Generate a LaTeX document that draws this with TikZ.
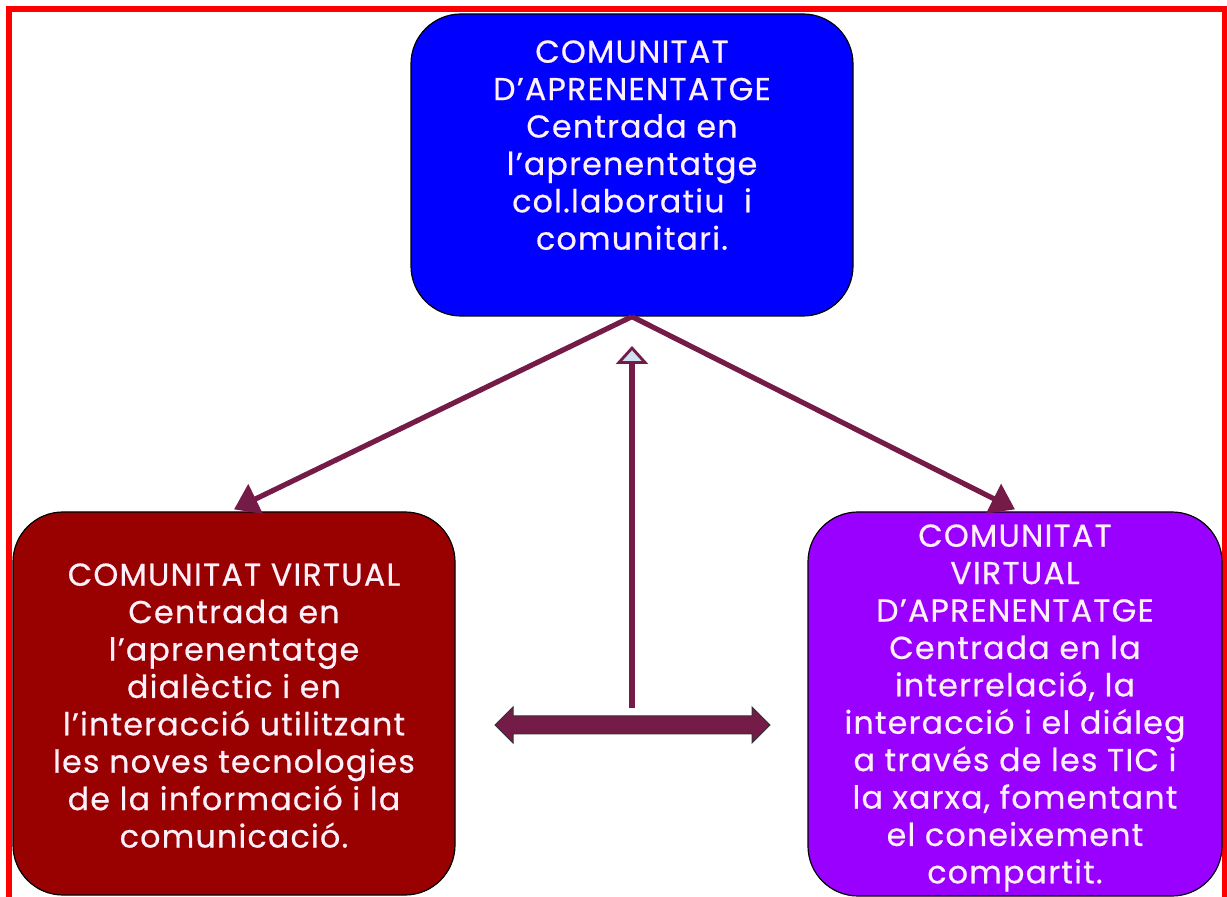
\documentclass[tikz,border=0pt]{standalone}
\usepackage{fontspec}
\setmainfont{Poppins}[LetterSpace=4, FakeBold=0.6]
\usetikzlibrary{arrows.meta}
\definecolor{frameRed}{HTML}{FF0000}
\definecolor{topBlue}{HTML}{0000FF}
\definecolor{leftRed}{HTML}{990000}
\definecolor{rightPurple}{HTML}{9900FF}
\definecolor{conn}{HTML}{741B47}
\definecolor{headFill}{HTML}{CFE2F3}
\definecolor{txt}{HTML}{FFF0FA}
\tikzset{
  box/.style={draw=black, line width=0.6pt, rounded corners=25pt, inner sep=0pt},
  boxtext/.style={text=txt, align=center, inner sep=0pt, font=\fontsize{15.8}{18.7}\selectfont},
  link/.style={draw=conn, line width=2.6pt, -{Triangle[length=12pt, width=16pt, fill=conn]}},
}
\begin{document}
\begin{tikzpicture}[x=0.5pt, y=-0.5pt]
\useasboundingbox (0,0) rectangle (1227,897);
\clip (0,0) rectangle (1227,897);
\fill[white] (0,0) rectangle (1227,897);
\draw[frameRed, line width=3pt] (8.5,9) rectangle (1224.5,920);

\node[box, fill=topBlue, minimum width=221pt, minimum height=151pt] (top) at (632,165) {};
\node[box, fill=leftRed, minimum width=221pt, minimum height=191.5pt] (left) at (234,703.5) {};
\node[box, fill=rightPurple, minimum width=207pt, minimum height=192pt] (right) at (1015,704) {};

\node[boxtext, anchor=north] (toptext) at (632,40) {COMUNITAT\\D’APRENENTATGE\\Centrada en\\l’aprenentatge\\col.laboratiu\ \ i\\comunitari.};
\node[boxtext, anchor=north] (lefttext) at (234,563) {COMUNITAT VIRTUAL\\Centrada en\\l’aprenentatge\\dialèctic i en\\l’interacció utilitzant\\les noves tecnologies\\de la informació i la\\comunicació.};
\node[boxtext, anchor=north] (righttext) at (1015,524) {COMUNITAT\\VIRTUAL\\D’APRENENTATGE\\Centrada en la\\interrelació, la\\interacció i el diáleg\\a través de les TIC i\\la xarxa, fomentant\\el coneixement\\compartit.};

\draw[link] (top.south) -- ([yshift=1pt]left.north);
\draw[link] (top.south) -- ([yshift=1pt]right.north);

\coordinate (vbot) at (632,708);
\coordinate (vtop) at (632,346);
\draw[conn, line width=2.6pt, -{Triangle[length=9pt, width=16pt, fill=headFill, line width=1.4pt]}] (vbot) -- (vtop);

\coordinate (dl) at (495,725);
\coordinate (dr) at (770,725);
\draw[fill=conn, draw=black!80, line width=0.5pt]
  (dl) -- ++(18,-18) -- ++(0,9) -- (752,716) -- ++(0,-9) -- (dr) -- (752,743) -- ++(0,-9) -- (513,734) -- ++(0,9) -- cycle;
\end{tikzpicture}
\end{document}
